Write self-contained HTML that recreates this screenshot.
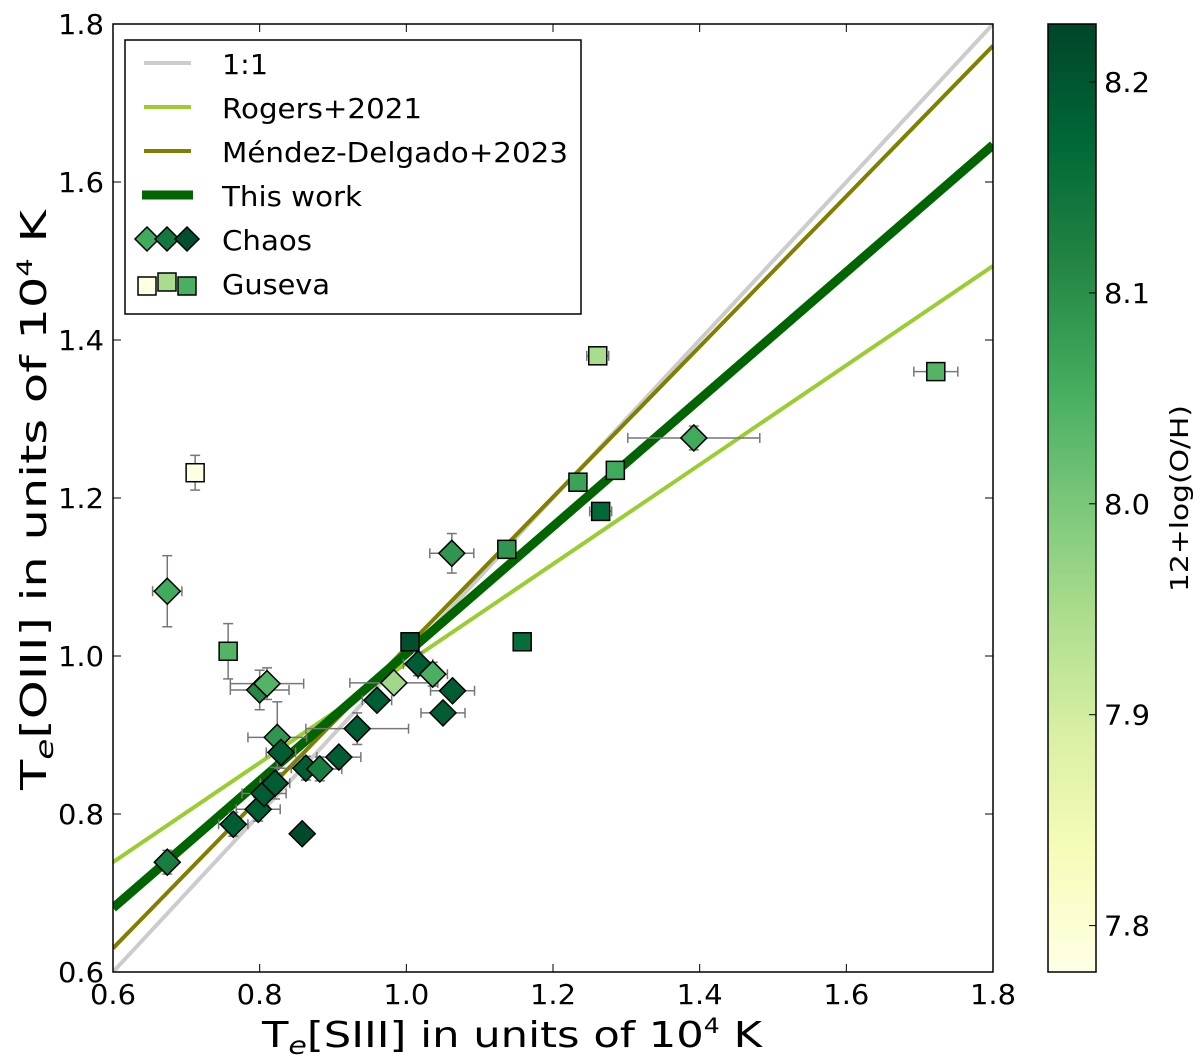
<!DOCTYPE html>
<html><head><meta charset="utf-8"><style>
html,body{margin:0;padding:0;background:#fff;}
svg{display:block;font-family:"DejaVu Sans","Liberation Sans",sans-serif;}
</style></head><body>
<svg id="chart" width="1200" height="1063" viewBox="0 0 1200 1063" xmlns="http://www.w3.org/2000/svg">
<defs>
<clipPath id="plotclip"><rect x="113" y="24" width="880" height="948"/></clipPath>
<linearGradient id="cbgrad" x1="0" y1="1" x2="0" y2="0"></linearGradient>
</defs>
<g id="lines" clip-path="url(#plotclip)"></g>
<g id="errs" clip-path="url(#plotclip)"></g>
<g id="pts" clip-path="url(#plotclip)"></g>
<rect x="113" y="24" width="880" height="948" fill="none" stroke="#000" stroke-width="1.5"/>
<g id="ticks"></g>
<text x="262" y="1047" font-size="36" textLength="500" lengthAdjust="spacingAndGlyphs">T<tspan font-style="italic" font-size="25" dy="7">e</tspan><tspan dy="-7">[SIII] in units of 10</tspan><tspan font-size="21" dy="-14">4</tspan><tspan dy="14"> K</tspan></text>
<text transform="translate(46,790) rotate(-90)" font-size="36" textLength="580" lengthAdjust="spacingAndGlyphs">T<tspan font-style="italic" font-size="25" dy="7">e</tspan><tspan dy="-7">[OIII] in units of 10</tspan><tspan font-size="21" dy="-14">4</tspan><tspan dy="14"> K</tspan></text>
<g>
<rect x="125" y="40" width="456" height="274" fill="#fff" stroke="#000" stroke-width="1.5"/>
<line x1="144" y1="63" x2="191" y2="63" stroke="#cccccc" stroke-width="4"/>
<text x="222" y="74" font-size="28" textLength="46" lengthAdjust="spacingAndGlyphs">1:1</text>
<line x1="144" y1="107" x2="191" y2="107" stroke="#9acd32" stroke-width="4"/>
<text x="222" y="118" font-size="28" textLength="200" lengthAdjust="spacingAndGlyphs">Rogers+2021</text>
<line x1="144" y1="151" x2="191" y2="151" stroke="#808000" stroke-width="4"/>
<text x="222" y="162" font-size="28" textLength="346" lengthAdjust="spacingAndGlyphs">Méndez-Delgado+2023</text>
<line x1="142" y1="195" x2="193" y2="195" stroke="#006400" stroke-width="9"/>
<text x="222" y="206" font-size="28" textLength="140" lengthAdjust="spacingAndGlyphs">This work</text>
<g id="legmk"></g>
<text x="222" y="250" font-size="28" textLength="90" lengthAdjust="spacingAndGlyphs">Chaos</text>
<text x="222" y="294" font-size="28" textLength="108" lengthAdjust="spacingAndGlyphs">Guseva</text>
</g>
<rect x="1048" y="24" width="48" height="948" fill="url(#cbgrad)" stroke="#000" stroke-width="1.5"/>
<g id="cbticks"></g>
<text transform="translate(1188,592) rotate(-90)" font-size="25" textLength="187" lengthAdjust="spacingAndGlyphs">12+log(O/H)</text>
</svg>
<script>
const xTicks=[0.6,0.8,1.0,1.2,1.4,1.6,1.8];
const yTicks=[0.6,0.8,1.0,1.2,1.4,1.6,1.8];
const cbTicks=[7.8,7.9,8.0,8.1,8.2];
const lineNames=["one-to-one","rogers-2021","mendez-delgado-2023","this-work"];
const lineSlopes=[1.0,0.629,0.952,0.805];
const lineIntercepts=[0.6,0.739,0.630,0.681]; // value at x=0.6
const chaosX=[0.674,0.674,0.824,0.800,0.810,0.829,0.764,0.798,0.806,0.821,0.863,0.882,0.908,0.933,0.858,0.960,0.983,1.016,1.036,1.063,1.050,1.062,1.392];
const chaosY=[0.739,1.082,0.897,0.957,0.965,0.878,0.787,0.806,0.826,0.839,0.858,0.857,0.872,0.908,0.775,0.944,0.966,0.990,0.977,0.956,0.928,1.130,1.276];
const chaosZ=[8.13,8.06,8.09,8.11,8.04,8.19,8.19,8.19,8.19,8.19,8.19,8.13,8.19,8.19,8.22,8.19,7.96,8.19,8.05,8.19,8.19,8.09,8.06];
const chaosXerr=[0.01,0.02,0.04,0.04,0.05,0.02,0.02,0.03,0.03,0.02,0.02,0.03,0.03,0.07,0.0,0.02,0.06,0.02,0.02,0.03,0.03,0.03,0.09];
const chaosYerr=[0.015,0.045,0.045,0.025,0.02,0.02,0.015,0.015,0.015,0.02,0.015,0.015,0.01,0.02,0.0,0.01,0.01,0.015,0.015,0.01,0.01,0.025,0.015];
const gusX=[0.712,0.757,1.005,1.137,1.158,1.234,1.265,1.285,1.261,1.722];
const gusY=[1.232,1.006,1.018,1.135,1.018,1.220,1.183,1.235,1.380,1.360];
const gusZ=[7.78,8.04,8.21,8.09,8.16,8.07,8.17,8.06,7.95,8.04];
const gusXerr=[0.0,0.0,0.0,0.0,0.01,0.01,0.015,0.01,0.015,0.03];
const gusYerr=[0.022,0.035,0.0,0.0,0.0,0.0,0.0,0.0,0.0,0.0];
const zMin=7.778, zMax=8.2275;

const NS="http://www.w3.org/2000/svg";
const X=v=>113+(v-0.6)*880/1.2;
const Y=v=>972-(v-0.6)*948/1.2;
const ZY=z=>972-(z-zMin)/(zMax-zMin)*948;
const ylgn=["#ffffe5","#f7fcb9","#d9f0a3","#addd8e","#78c679","#41ab5d","#238443","#006837","#004529"];
function hex(c){return [1,3,5].map(i=>parseInt(c.substr(i,2),16));}
function cmap(z){let t=Math.max(0,Math.min(1,(z-zMin)/(zMax-zMin)))*(ylgn.length-1);let i=Math.min(Math.floor(t),ylgn.length-2),f=t-i;const a=hex(ylgn[i]),b=hex(ylgn[i+1]);return "rgb("+a.map((v,k)=>Math.round(v+(b[k]-v)*f)).join(",")+")";}
function mk(tag,attrs,parent){const e=document.createElementNS(NS,tag);for(const k in attrs)e.setAttribute(k,attrs[k]);parent.appendChild(e);return e;}
const grad=document.getElementById('cbgrad');
ylgn.forEach((c,i)=>mk('stop',{offset:(i/(ylgn.length-1)),'stop-color':c},grad));

const widths=[4,4,4,9],colors=["#cccccc","#9acd32","#808000","#006400"];
const gl=document.getElementById('lines');
lineNames.forEach((n,i)=>{
 const y0=lineIntercepts[i], y1=lineIntercepts[i]+lineSlopes[i]*1.2;
 const l=mk('line',{x1:X(0.6),y1:Y(y0),x2:X(1.8),y2:Y(y1),stroke:colors[i],'stroke-width':widths[i]},gl);
 
 
});
const ge=document.getElementById('errs'),gp=document.getElementById('pts');
function err(x,y,xe,ye){
 const c={stroke:'#777','stroke-width':1.5};
 if(xe>0){mk('line',Object.assign({x1:X(x-xe),y1:Y(y),x2:X(x+xe),y2:Y(y)},c),ge);
  [x-xe,x+xe].forEach(v=>mk('line',Object.assign({x1:X(v),y1:Y(y)-5,x2:X(v),y2:Y(y)+5},c),ge));}
 if(ye>0){mk('line',Object.assign({x1:X(x),y1:Y(y-ye),x2:X(x),y2:Y(y+ye)},c),ge);
  [y-ye,y+ye].forEach(v=>mk('line',Object.assign({x1:X(x)-5,y1:Y(v),x2:X(x)+5,y2:Y(v)},c),ge));}
}
gusX.forEach((x,i)=>err(x,gusY[i],gusXerr[i],gusYerr[i]));
chaosX.forEach((x,i)=>err(x,chaosY[i],chaosXerr[i],chaosYerr[i]));
gusX.forEach((x,i)=>{
 const r=mk('rect',{x:X(x)-9,y:Y(gusY[i])-9,width:18,height:18,fill:cmap(gusZ[i]),stroke:'#000','stroke-width':1.5},gp);
 
 
});
chaosX.forEach((x,i)=>{
 const cx=X(x),cy=Y(chaosY[i]),s=13;
 const p=mk('polygon',{points:`${cx},${cy-s} ${cx+s},${cy} ${cx},${cy+s} ${cx-s},${cy}`,fill:cmap(chaosZ[i]),stroke:'#000','stroke-width':1.5},gp);
 
 
});
const gt=document.getElementById('ticks');
xTicks.forEach(v=>{
 mk('line',{x1:X(v),y1:972,x2:X(v),y2:964,stroke:'#000','stroke-width':1},gt);
 mk('line',{x1:X(v),y1:24,x2:X(v),y2:32,stroke:'#000','stroke-width':1},gt);
 const t=mk('text',{x:X(v)-23,y:1004,'font-size':28,textLength:46,lengthAdjust:'spacingAndGlyphs'},gt);t.textContent=v.toFixed(1);
 
 
});
yTicks.forEach(v=>{
 mk('line',{x1:113,y1:Y(v),x2:121,y2:Y(v),stroke:'#000','stroke-width':1},gt);
 mk('line',{x1:993,y1:Y(v),x2:985,y2:Y(v),stroke:'#000','stroke-width':1},gt);
 const t=mk('text',{x:58,y:Y(v)+10,'font-size':28,textLength:46,lengthAdjust:'spacingAndGlyphs'},gt);t.textContent=v.toFixed(1);
 
 
});
const cbt=document.getElementById('cbticks');
cbTicks.forEach(v=>{
 mk('line',{x1:1096,y1:ZY(v),x2:1089,y2:ZY(v),stroke:'#000','stroke-width':1},cbt);
 const t=mk('text',{x:1104,y:ZY(v)+10,'font-size':28,textLength:46,lengthAdjust:'spacingAndGlyphs'},cbt);t.textContent=v.toFixed(1);
 
 
});
const lg=document.getElementById('legmk');
[8.06,8.14,8.21].forEach((z,i)=>{const cx=147+i*20,cy=239,s=12;
 mk('polygon',{points:`${cx},${cy-s} ${cx+s},${cy} ${cx},${cy+s} ${cx-s},${cy}`,fill:cmap(z),stroke:'#000','stroke-width':1.5},lg);});
[[147,286,7.78],[167,282,7.95],[187,286,8.05]].forEach(a=>{
 mk('rect',{x:a[0]-9,y:a[1]-9,width:18,height:18,fill:cmap(a[2]),stroke:'#000','stroke-width':1.5},lg);});
</script>
</body></html>
